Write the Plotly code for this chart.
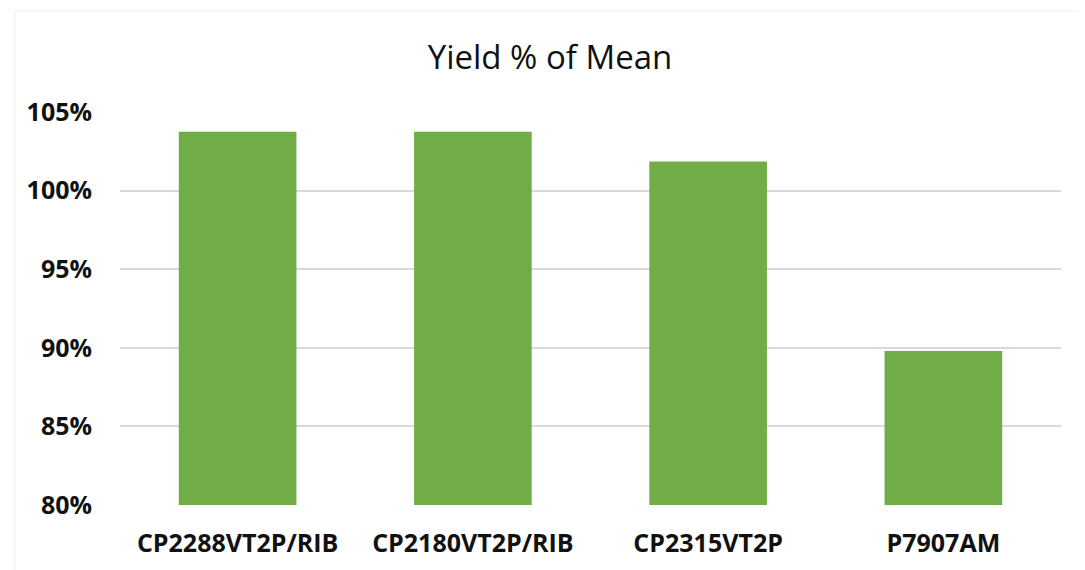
import plotly.graph_objects as go

categories = ["CP2288VT2P/RIB", "CP2180VT2P/RIB", "CP2315VT2P", "P7907AM"]
yield_pct = [103.75, 103.75, 101.85, 89.8]
tick_vals = [80, 85, 90, 95, 100, 105]
tick_text = ["80%", "85%", "90%", "95%", "100%", "105%"]

W, H = 1077, 562  # page has 8px body margin

fig = go.Figure()
fig.add_trace(go.Bar(
    x=categories, y=yield_pct,
    marker=dict(color="#70AD47", line=dict(width=0)),
    width=0.5,
))

fig.update_layout(
    width=W, height=H,
    margin=dict(l=112, r=24, t=104, b=65),
    paper_bgcolor="white", plot_bgcolor="white",
    showlegend=False,
    title=dict(text="Yield % of Mean", x=542/W, xanchor="center", y=1-49/H, yanchor="middle",
               font=dict(family="Open Sans", size=33, color="#111111")),
    font=dict(family="Open Sans", color="#111111"),
    xaxis=dict(showgrid=False, showline=False, ticks="", ticklabelstandoff=21,
               tickfont=dict(size=25, family="Open Sans", weight="bold", color="#111111")),
    yaxis=dict(range=[80, 105], tickvals=tick_vals, ticktext=tick_text,
               showgrid=True, gridcolor="#d9d9d9", gridwidth=1.5, zeroline=False,
               showline=False, ticks="", ticklabelstandoff=27,
               tickfont=dict(size=25, family="Open Sans", weight="bold", color="#111111")),
    bargap=0.5,
)
fig.add_shape(type="rect", xref="paper", yref="paper",
              x0=-105/941, x1=1.05, y0=-0.2, y1=1 + 101/393,
              line=dict(color="#eeeeee", width=1), fillcolor="rgba(0,0,0,0)", layer="below")

fig.write_html("out.html")
